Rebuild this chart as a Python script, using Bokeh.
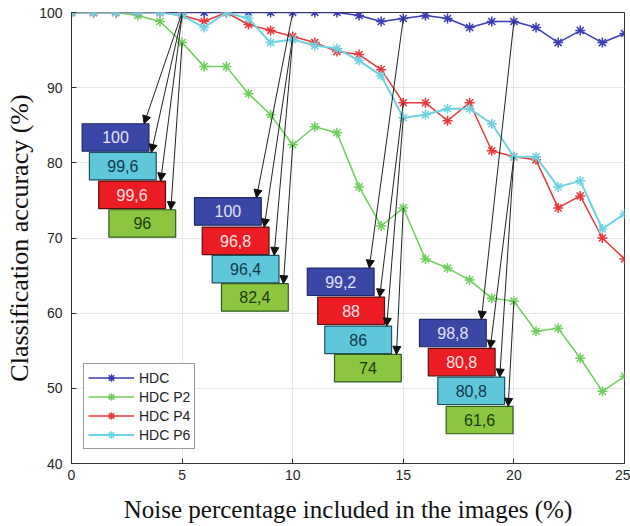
from bokeh.plotting import figure
from bokeh.models import (Range1d, Arrow, NormalHead, ColumnDataSource, Legend,
                          LegendItem, FixedTicker)
from bokeh.embed import file_html
from bokeh.resources import INLINE
from bokeh.core.properties import value

# ---------------- data ----------------
noise = list(range(26))
hdc = [100, 100, 100, 100, 100, 100, 100, 100, 100, 100, 100, 100, 100,
       99.6, 98.8, 99.2, 99.6, 99.2, 98, 98.8, 98.8, 98, 96, 97.6, 96, 97.2]
hdc_p2 = [100, 100, 100, 99.6, 98.8, 96, 92.8, 92.8, 89.2, 86.4, 82.4, 84.8, 84,
          76.8, 71.6, 74, 67.2, 66, 64.4, 62, 61.6, 57.6, 58, 54, 49.6, 51.6]
hdc_p4 = [100, 100, 100, 100, 100, 99.6, 98.8, 100, 98.4, 97.6, 96.8, 96, 94.8,
          94.4, 92.4, 88, 88, 85.6, 88, 81.6, 80.8, 80.4, 74, 75.6, 70, 67.2]
hdc_p6 = [100, 100, 100, 100, 100, 99.6, 98, 100, 99.2, 96, 96.4, 95.6, 95.2,
          93.6, 91.6, 86, 86.4, 87.2, 87.2, 85.2, 80.8, 80.8, 76.8, 77.6, 71.2, 73.2]
series_names = ["HDC", "HDC P2", "HDC P4", "HDC P6"]
x_ticks = [0, 5, 10, 15, 20, 25]
y_ticks = [40, 50, 60, 70, 80, 90, 100]

# annotated noise levels and the series order of their boxes
annot_x = [5, 10, 15, 20]
annot_order = [["HDC", "HDC P6", "HDC P4", "HDC P2"],
               ["HDC", "HDC P4", "HDC P6", "HDC P2"],
               ["HDC", "HDC P4", "HDC P6", "HDC P2"],
               ["HDC", "HDC P4", "HDC P6", "HDC P2"]]

# ---------------- layout / style ----------------
series_vals = {"HDC": hdc, "HDC P2": hdc_p2, "HDC P4": hdc_p4, "HDC P6": hdc_p6}
line_colors = {"HDC": "#3a3db4", "HDC P2": "#6fcf5c", "HDC P4": "#e8383c", "HDC P6": "#6fd2e2"}
box_fill = {"HDC": "#3a47a6", "HDC P2": "#8cc63f", "HDC P4": "#ec1c24", "HDC P6": "#5ec8da"}
box_text = {"HDC": "#e4e4f6", "HDC P2": "#1c3a12", "HDC P4": "#ffe2e2", "HDC P6": "#12384a"}
box_line = {"HDC": "#1f2a6b", "HDC P2": "#2d5a20", "HDC P4": "#5a1010", "HDC P6": "#1f4f60"}
box_lefts = [[0.48, 0.81, 1.23, 1.69],
             [5.56, 5.91, 6.36, 6.78],
             [10.66, 11.13, 11.45, 11.89],
             [15.73, 16.13, 16.56, 16.94]]
box_tops = [[85.2, 81.38, 77.57, 73.76],
            [75.36, 71.45, 67.69, 63.92],
            [66.0, 62.14, 58.28, 54.52],
            [59.18, 55.32, 51.5, 47.61]]
box_w = 3.02
box_h = 3.65
tip_dx = 2.8

p = figure(width=630, height=526, output_backend="svg", toolbar_location=None,
           x_range=Range1d(0, 25), y_range=Range1d(40, 100),
           min_border_left=71, min_border_right=6, min_border_top=12,
           min_border_bottom=63)
p.background_fill_color = "white"
p.border_fill_color = "white"
p.outline_line_color = "#333333"
p.outline_line_width = 1

for ax in (p.xaxis, p.yaxis):
    ax.major_tick_in = 5
    ax.major_tick_out = 0
    ax.minor_tick_line_color = None
    ax.axis_line_color = "#333333"
    ax.major_tick_line_color = "#333333"
    ax.major_label_text_font = "Liberation Sans"
    ax.major_label_text_font_size = "14px"
    ax.major_label_text_color = "#262626"
    ax.axis_label_text_font = "Liberation Serif"
    ax.axis_label_text_font_style = "normal"
    ax.axis_label_text_color = "#111111"

p.xaxis.ticker = FixedTicker(ticks=x_ticks)
p.yaxis.ticker = FixedTicker(ticks=y_ticks)
p.xaxis.axis_label = "Noise percentage included in the images (%)"
p.yaxis.axis_label = "Classification accuracy (%)"
p.xaxis.axis_label_text_font_size = "25px"
p.yaxis.axis_label_text_font_size = "26px"
p.xaxis.major_label_standoff = 6
p.xaxis.axis_label_standoff = 13
p.yaxis.major_label_standoff = 9
p.yaxis.axis_label_standoff = 2

p.xgrid.ticker = FixedTicker(ticks=x_ticks)
p.ygrid.ticker = FixedTicker(ticks=y_ticks)
p.grid.grid_line_color = "#e6e6e6"
p.grid.grid_line_width = 1

items = []
for name in series_names:
    src = ColumnDataSource(dict(x=noise, y=series_vals[name]))
    lw = 2 if name == "HDC P6" else 1.5
    r1 = p.line("x", "y", source=src, line_color=line_colors[name], line_width=lw)
    r2 = p.scatter("x", "y", source=src, marker="asterisk", size=10,
                   line_color=line_colors[name], line_width=1.5)
    items.append(LegendItem(label=name, renderers=[r1, r2]))

# annotation boxes
bl, br, bt, bb, bfill, bline, tx, ty, ttext, tcol = [], [], [], [], [], [], [], [], [], []
arrows = []
for g, gx in enumerate(annot_x):
    idx = noise.index(gx)
    for k, name in enumerate(annot_order[g]):
        v = series_vals[name][idx]
        left = box_lefts[g][k]
        top = box_tops[g][k]
        bl.append(left); br.append(left + box_w)
        bt.append(top); bb.append(top - box_h)
        bfill.append(box_fill[name]); bline.append(box_line[name])
        tx.append(left + box_w / 2); ty.append(top - box_h / 2)
        ttext.append(("%g" % v).replace(".", ","))
        tcol.append(box_text[name])
        arrows.append((gx, v, left + tip_dx, top))

bsrc = ColumnDataSource(dict(left=bl, right=br, top=bt, bottom=bb, fill=bfill, line=bline))
p.quad(left="left", right="right", top="top", bottom="bottom", source=bsrc,
       fill_color="fill", line_color="line", line_width=1.2)
tsrc = ColumnDataSource(dict(x=tx, y=ty, text=ttext, color=tcol))
p.text(x="x", y="y", text="text", source=tsrc, text_color="color",
       text_align="center", text_baseline="middle",
       text_font=value("Liberation Sans"), text_font_size="16px")

for (x0, y0, x1, y1) in arrows:
    p.add_layout(Arrow(x_start=x0, y_start=y0, x_end=x1, y_end=y1,
                       line_color="#222222", line_width=1,
                       end=NormalHead(size=8, fill_color="#111111", line_color="#111111")))

legend = Legend(items=items, location=(12, 14))
legend.label_text_font = "Liberation Sans"
legend.label_text_font_size = "14px"
legend.label_text_color = "#222222"
legend.glyph_width = 46
legend.glyph_height = 19
legend.label_height = 19
legend.spacing = 0
legend.padding = 4
legend.margin = 0
legend.label_standoff = 5
legend.border_line_color = "#333333"
legend.border_line_width = 1
legend.background_fill_color = "white"
legend.background_fill_alpha = 1
p.add_layout(legend)

open("out.html", "w").write(file_html(p, INLINE))
